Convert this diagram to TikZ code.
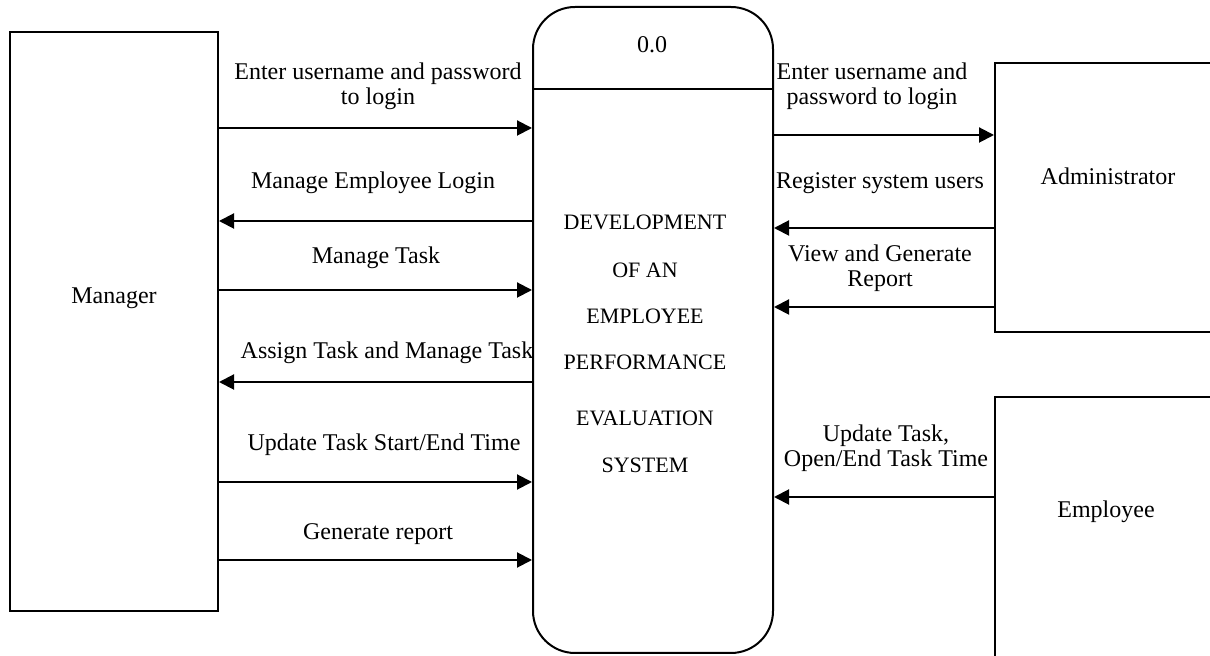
\documentclass[tikz,border=0pt]{standalone}
\usepackage{fontspec}
\setmainfont{Liberation Serif}
\usetikzlibrary{arrows.meta}
\begin{document}
\begin{tikzpicture}[x=0.5pt,y=-0.5pt,
  box/.style={draw,line width=1pt,rectangle,inner sep=0pt},
  arr/.style={line width=1pt,-{Triangle[length=7.5pt,width=7.5pt]}},
  lbl/.style={font=\fontsize{12}{12.5}\selectfont,align=center,inner sep=0pt},
  ptxt/.style={font=\fontsize{11}{11}\selectfont,inner sep=0pt}]
\useasboundingbox (0,0) rectangle (1210,656);
\clip (0,0) rectangle (1210,656);
% boxes
\node[box,minimum width=104.25pt,minimum height=289.25pt] (mgr) at (113.75,321.75) {};
\node[lbl] (mgrt) at (114,298) {Manager};
\node[box,rounded corners=21pt,minimum width=120pt,minimum height=323pt] (proc) at (653,330) {};
\draw[line width=1pt] (proc.west |- 0,89) -- (proc.east |- 0,89);
\node[lbl] (pid) at (652,45) {0.0};
\node[box,minimum width=113pt,minimum height=134.5pt] (adm) at (1108,197.5) {};
\node[lbl] (admt) at (1108,176) {Administrator};
\node[box,minimum width=113pt,minimum height=140pt] (emp) at (1108,537) {};
\node[lbl] (empt) at (1106,512) {Employee};
% process text
\node[ptxt] (p1) at (645,222) {DEVELOPMENT};
\node[ptxt] (p2) at (645,270) {OF AN};
\node[ptxt] (p3) at (645,316) {EMPLOYEE};
\node[ptxt] (p4) at (645,362) {PERFORMANCE};
\node[ptxt] (p5) at (645,418) {EVALUATION};
\node[ptxt] (p6) at (645,465) {SYSTEM};
% left arrows
\draw[arr] (mgr.east |- 0,128) -- (proc.west |- 0,128);
\node[lbl] (l1) at (378,86) {Enter username and password\\to login};
\draw[arr] (proc.west |- 0,221) -- (mgr.east |- 0,221);
\node[lbl] (l2) at (373,183) {Manage Employee Login};
\draw[arr] (mgr.east |- 0,290) -- (proc.west |- 0,290);
\node[lbl] (l3) at (376,258) {Manage Task};
\draw[arr] (proc.west |- 0,382) -- (mgr.east |- 0,382);
\node[lbl] (l4) at (387,353) {Assign Task and Manage Task};
\draw[arr] (mgr.east |- 0,482) -- (proc.west |- 0,482);
\node[lbl] (l5) at (384,445) {Update Task Start/End Time};
\draw[arr] (mgr.east |- 0,560) -- (proc.west |- 0,560);
\node[lbl] (l6) at (378,534) {Generate report};
% right arrows
\draw[arr] (proc.east |- 0,135) -- (adm.west |- 0,135);
\node[lbl] (r1) at (872,86) {Enter username and\\password to login};
\draw[arr] (adm.west |- 0,228) -- (proc.east |- 0,228);
\node[lbl] (r2) at (880,183) {Register system users};
\draw[arr] (adm.west |- 0,307) -- (proc.east |- 0,307);
\node[lbl] (r3) at (880,268) {View and Generate\\Report};
\draw[arr] (emp.west |- 0,497) -- (proc.east |- 0,497);
\node[lbl] (r4) at (886,448) {Update Task,\\Open/End Task Time};
\end{tikzpicture}
\end{document}
